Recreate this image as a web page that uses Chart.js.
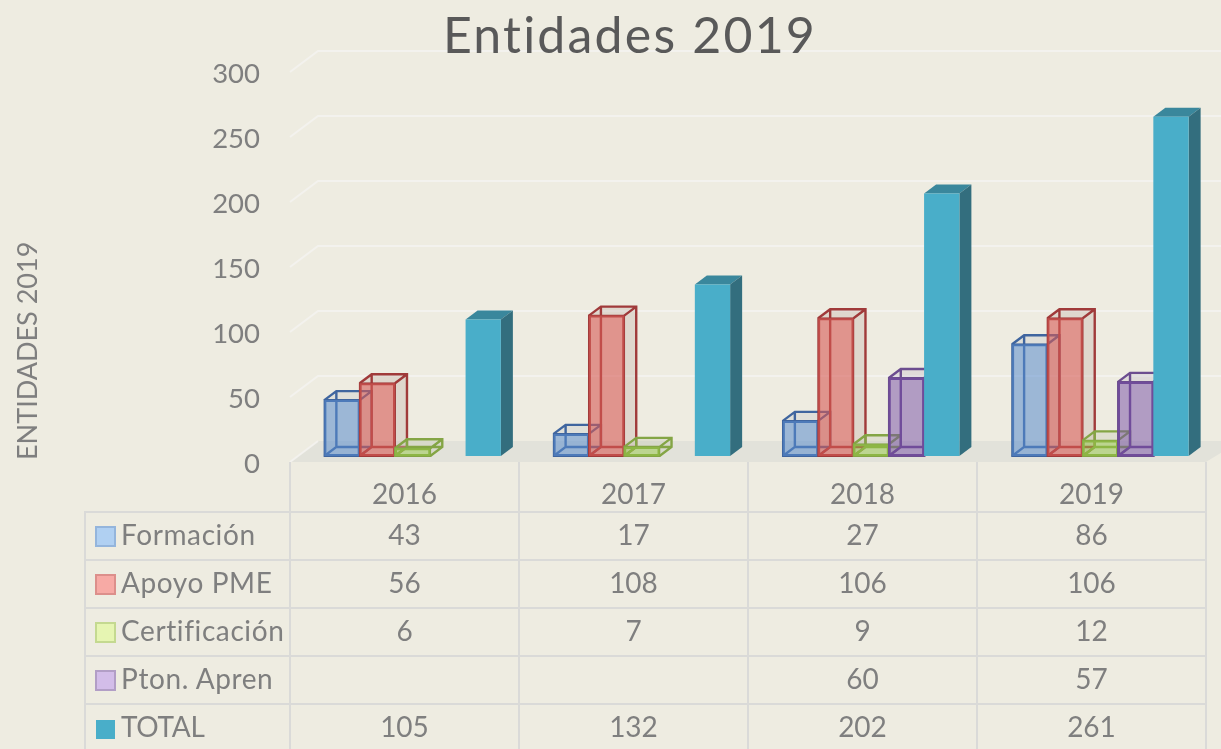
<!DOCTYPE html>
<html>
<head>
<meta charset="utf-8">
<title>Entidades 2019</title>
<script src="https://cdn.jsdelivr.net/npm/chart.js@4/dist/chart.umd.js"></script>
<style>
  html, body { margin:0; padding:0; width:1221px; height:749px; overflow:hidden; background:#eeece1; }
  body { position:relative; font-family:Lato, sans-serif; color:#7f7f7f; }
  #wrap { position:absolute; left:0; top:0; width:1221px; height:749px; }
  #title { position:absolute; left:330px; width:600px; top:2px; text-align:center; font-size:50px; line-height:64px; color:#595959; letter-spacing:2.2px; }
  #ytitle { position:absolute; left:27px; top:460px; font-size:27px; line-height:30px; white-space:nowrap; transform-origin:0 0; transform:rotate(-90deg) translateY(-15px); }
  table { position:absolute; left:84px; top:462px; border-collapse:collapse; table-layout:fixed; width:1121px; font-size:28px; }
  td { border:2px solid #dadad8; text-align:center; padding:0 0 4px 0; height:42px; white-space:nowrap; }
  tr.head td { height:37px; padding:12px 0 0 0; border-top:none; }
  tr.head td:first-child { border:none; border-bottom:2px solid #dadad8; }
  td.name { text-align:left; padding-left:9px; box-sizing:border-box; height:46px; letter-spacing:0.6px; }
  tr:last-child td.name { letter-spacing:-0.3px; }
  .key { display:inline-block; width:17px; height:17px; border:2px solid; margin-right:5px; vertical-align:-2px; }
</style>
</head>
<body>
<div id="wrap"><canvas id="chart" width="1221" height="749"></canvas></div>
<div id="title">Entidades 2019</div>
<div id="ytitle">ENTIDADES 2019</div>
<table id="tbl"></table>
<script>
const years = ['2016', '2017', '2018', '2019'];
const formacion = [43, 17, 27, 86];
const apoyo = [56, 108, 106, 106];
const certificacion = [6, 7, 9, 12];
const pton = [null, null, 60, 57];
const total = [105, 132, 202, 261];
const names = ['Formación', 'Apoyo PME', 'Certificación', 'Pton. Apren', 'TOTAL'];
const yTicks = [0, 50, 100, 150, 200, 250, 300];

// fill, border, top/side face, legend fill, legend border
const looks = [
  ['rgba(90,140,205,0.55)', '#3f659f', 'rgba(200,205,205,0.4)', '#b0d0f2', '#94b5dc'],
  ['rgba(215,90,85,0.6)', '#a03a3a', 'rgba(200,185,175,0.4)', '#f7aaa5', '#dc8f8b'],
  ['rgba(150,200,70,0.5)', '#84a545', 'rgba(200,205,180,0.4)', '#e6f5b2', '#c4d990'],
  ['rgba(115,75,165,0.5)', '#6c4d8f', 'rgba(200,195,205,0.4)', '#d3bde9', '#b29ec6'],
  ['#49aec9', '#49aec9', null, '#49aec9', '#49aec9']
];
const series = [formacion, apoyo, certificacion, pton, total];

// table under the plot
let html = '<colgroup><col style="width:205px">' + years.map(() => '<col style="width:229px">').join('') + '</colgroup>';
html += '<tr class="head"><td></td>' + years.map(y => '<td>' + y + '</td>').join('') + '</tr>';
names.forEach((n, i) => {
  const k = i === 4 ? 'border:none;width:19px;height:19px;margin-left:1px;margin-right:6px' : 'border-color:' + looks[i][4];
  html += '<tr><td class="name"><span class="key" style="background:' + looks[i][3] + ';' + k + '"></span>' + n + '</td>';
  html += series[i].map(v => '<td>' + (v === null ? '' : v) + '</td>').join('') + '</tr>';
});
document.getElementById('tbl').innerHTML = html;

const DX = 12, DY = -9;   // bar depth

function poly(ctx, pts, fill) {
  ctx.beginPath();
  pts.forEach((p, i) => i ? ctx.lineTo(p[0], p[1]) : ctx.moveTo(p[0], p[1]));
  ctx.closePath();
  ctx.fillStyle = fill;
  ctx.fill();
}

function drawBar(ctx, bar, look) {
  const l = bar.x - bar.width / 2, r = bar.x + bar.width / 2, t = bar.y, b = bar.base;
  if (look[2] === null) {
    // solid TOTAL bar
    poly(ctx, [[l, t], [l + DX, t + DY], [r + DX, t + DY], [r, t]], '#3a879c');
    poly(ctx, [[r, t], [r + DX, t + DY], [r + DX, b + DY], [r, b]], '#336e7e');
    bar.draw(ctx);
    return;
  }
  poly(ctx, [[l, t], [l + DX, t + DY], [r + DX, t + DY], [r, t]], look[2]);
  poly(ctx, [[r, t], [r + DX, t + DY], [r + DX, b + DY], [r, b]], look[2]);
  ctx.strokeStyle = look[1];
  ctx.lineWidth = 2.4;
  ctx.beginPath();
  // hidden edges and depth edges
  ctx.moveTo(l, b); ctx.lineTo(l + DX, b + DY); ctx.lineTo(l + DX, t + DY);
  ctx.moveTo(l + DX, b + DY); ctx.lineTo(r + DX, b + DY);
  ctx.moveTo(l, t); ctx.lineTo(l + DX, t + DY); ctx.lineTo(r + DX, t + DY); ctx.lineTo(r + DX, b + DY); ctx.lineTo(r, b);
  ctx.moveTo(r, t); ctx.lineTo(r + DX, t + DY);
  ctx.stroke();
  bar.draw(ctx);
}

const box3d = {
  id: 'box3d',
  beforeDatasetsDraw(chart) {
    const ctx = chart.ctx, y = chart.scales.y;
    const y0 = y.getPixelForValue(0);
    ctx.save();
    // floor
    poly(ctx, [[290, y0 + 6], [318, y0 - 15], [1240, y0 - 15], [1206, y0 + 6]], '#e2e2da');
    // gridlines on the back wall and left wall
    ctx.strokeStyle = '#f3f2ee';
    ctx.lineWidth = 2;
    yTicks.forEach(v => {
      const py = y.getPixelForValue(v);
      ctx.beginPath();
      ctx.moveTo(290, py + 6);
      ctx.lineTo(318, py - 15);
      if (v > 0) ctx.lineTo(1221, py - 15);
      ctx.stroke();
    });
    ctx.restore();
  },
  // library paints first dataset last, we need it the other way round
  beforeDatasetDraw() { return false; },
  afterDatasetsDraw(chart) {
    const ctx = chart.ctx;
    ctx.save();
    years.forEach((yr, j) => {
      chart.data.datasets.forEach((ds, i) => {
        if (ds.data[j] === null) return;
        drawBar(ctx, chart.getDatasetMeta(i).data[j], looks[i]);
      });
    });
    ctx.restore();
  }
};

new Chart(document.getElementById('chart'), {
  type: 'bar',
  data: {
    labels: years,
    datasets: names.map((n, i) => ({
      label: n,
      data: series[i],
      backgroundColor: looks[i][0],
      borderColor: looks[i][1],
      borderWidth: i === 4 ? 0 : 1,
      borderSkipped: false,
      inflateAmount: i === 4 ? 0 : 1,
      barPercentage: 1,
      categoryPercentage: 0.77
    }))
  },
  options: {
    responsive: false,
    animation: false,
    layout: { padding: { top: 66, bottom: 293, right: 6, left: 0 } },
    plugins: { legend: { display: false }, tooltip: { enabled: false } },
    scales: {
      x: { display: false },
      y: {
        min: 0,
        max: 300,
        afterFit(s) { s.width = 298; },
        border: { display: false },
        grid: { display: false },
        ticks: {
          stepSize: 50,
          padding: 30,
          labelOffset: 8,
          color: '#7f7f7f',
          font: { family: 'Lato', size: 27.5 }
        }
      }
    }
  },
  plugins: [box3d]
});
</script>
</body>
</html>
